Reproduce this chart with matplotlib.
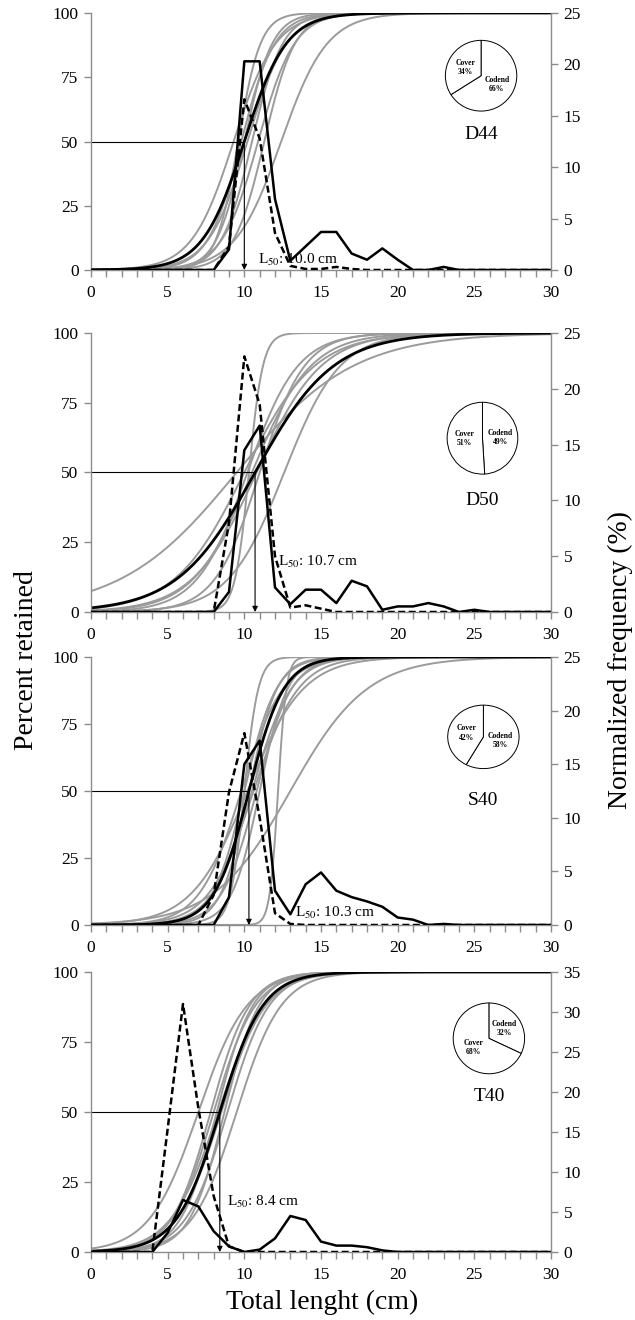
import numpy as np
import matplotlib.pyplot as plt

plt.rcParams['font.family'] = ['Liberation Serif', 'DejaVu Serif']
plt.rcParams['mathtext.fontset'] = 'stix'

lengths = np.arange(0, 31)
x_fine = np.linspace(0, 30, 601)

codes = ["D44", "D50", "S40", "T40"]
l50_mean = [10.0, 10.7, 10.3, 8.4]
sr_mean = [3.0, 5.6, 2.5, 3.1]
freq_max = [25, 25, 25, 35]

# haul-by-haul selection curves (L50, SR)
d44_l50 = [9.3, 9.6, 9.8, 10.0, 10.2, 10.5, 10.9, 11.3, 12.4]
d44_sr = [3.0, 1.6, 2.4, 2.0, 2.8, 2.2, 2.6, 2.2, 3.3]
d50_l50 = [10.3, 9.5, 12.6, 10.2, 10.5, 10.8, 11.0, 10.0]
d50_sr = [1.0, 8.3, 4.0, 3.6, 4.2, 4.6, 3.2, 5.0]
s40_l50 = [12.2, 13.0, 10.0, 10.2, 10.3, 10.5, 10.6, 10.0, 10.8, 9.8, 11.0]
s40_sr = [0.6, 5.5, 1.0, 4.0, 2.0, 2.8, 3.2, 2.3, 2.5, 3.0, 2.0]
t40_l50 = [7.0, 9.5, 7.8, 8.0, 8.2, 8.5, 8.7, 8.9, 8.3]
t40_sr = [3.5, 3.2, 2.8, 3.0, 2.6, 3.2, 2.5, 3.0, 3.4]

# normalized length frequencies (%), codend (solid) and cover (dashed)
d44_codend = [0, 0, 0, 0, 0, 0, 0, 0, 0, 2.0, 20.3, 20.3, 6.9, 0.9, 2.3, 3.7,
              3.7, 1.6, 1.0, 2.1, 1.0, 0, 0, 0.3, 0, 0, 0, 0, 0, 0, 0]
d44_cover = [0, 0, 0, 0, 0, 0, 0, 0, 0, 2.3, 16.6, 12.8, 3.6, 0.4, 0.1, 0.1,
             0.3, 0.1, 0, 0, 0, 0, 0, 0, 0, 0, 0, 0, 0, 0, 0]
d50_codend = [0, 0, 0, 0, 0, 0, 0, 0, 0, 1.8, 14.5, 16.7, 2.2, 0.7, 2.0, 2.0,
              0.8, 2.8, 2.3, 0.2, 0.5, 0.5, 0.8, 0.5, 0, 0.2, 0, 0, 0, 0, 0]
d50_cover = [0, 0, 0, 0, 0, 0, 0, 0, 0, 8.0, 22.9, 18.6, 5.0, 0.4, 0.6, 0.3,
             0, 0, 0, 0, 0, 0, 0, 0, 0, 0, 0, 0, 0, 0, 0]
s40_codend = [0, 0, 0, 0, 0, 0, 0, 0, 0, 2.6, 15.0, 17.2, 3.2, 1.0, 3.8, 4.9,
              3.2, 2.6, 2.2, 1.7, 0.7, 0.5, 0, 0.1, 0, 0, 0, 0, 0, 0, 0]
s40_cover = [0, 0, 0, 0, 0, 0, 0, 0, 2.8, 12.4, 17.9, 10.0, 1.1, 0.1, 0, 0,
             0, 0, 0, 0, 0, 0, 0, 0, 0, 0, 0, 0, 0, 0, 0]
t40_codend = [0, 0, 0, 0, 0, 2.4, 6.5, 5.7, 2.6, 0.7, 0, 0.3, 1.7, 4.5, 4.0, 1.3,
              0.8, 0.8, 0.6, 0.2, 0, 0, 0, 0, 0, 0, 0, 0, 0, 0, 0]
t40_cover = [0, 0, 0, 0, 0, 15.4, 31.0, 18.0, 7.0, 0.7, 0, 0, 0, 0, 0, 0,
             0, 0, 0, 0, 0, 0, 0, 0, 0, 0, 0, 0, 0, 0, 0]

# catch split (%), codend / cover
codend_pct = [66, 49, 58, 32]
cover_pct = [34, 51, 42, 68]

grey_l50 = [d44_l50, d50_l50, s40_l50, t40_l50]
grey_sr = [d44_sr, d50_sr, s40_sr, t40_sr]
codend_freq = [d44_codend, d50_codend, s40_codend, t40_codend]
cover_freq = [d44_cover, d50_cover, s40_cover, t40_cover]

# layout (pixels of the 635x1320 image)
W, H = 635, 1320
x_left, x_right = 91, 551
panel_top = [13, 333, 657, 972]
panel_bot = [270, 612, 925, 1252]
pie_box = [(0.848, 0.756, 0.097, 0.172, 0.527),
           (0.851, 0.623, 0.096, 0.161, 0.399),
           (0.853, 0.702, 0.097, 0.148, 0.463),
           (0.865, 0.763, 0.097, 0.158, 0.557)]
l50_text_pos = [(10.9, 4.0), (12.2, 18.0), (13.3, 4.4), (8.9, 17.8)]

axis_grey = '#8c8c8c'
curve_grey = '#9b9b9b'


def logistic(x, l50, sr):
    return 100.0 / (1.0 + np.exp(-2 * np.log(3) * (x - l50) / sr))


fig = plt.figure(figsize=(W / 100, H / 100), dpi=100)

for i in range(4):
    rect = [x_left / W, 1 - panel_bot[i] / H, (x_right - x_left) / W,
            (panel_bot[i] - panel_top[i]) / H]
    ax = fig.add_axes(rect)
    ax2 = ax.twinx()

    for l50, sr in zip(grey_l50[i], grey_sr[i]):
        ax.plot(x_fine, logistic(x_fine, l50, sr), color=curve_grey, lw=1.4)
    ax.plot(x_fine, logistic(x_fine, l50_mean[i], sr_mean[i]), color='black', lw=2.0)

    L = l50_mean[i]
    ax.plot([0, L], [50, 50], color='black', lw=0.8)
    ax.annotate('', xy=(L, 0), xytext=(L, 50),
                arrowprops=dict(arrowstyle='-|>', color='black', lw=0.8,
                                mutation_scale=8, shrinkA=0, shrinkB=0))
    tx, ty = l50_text_pos[i]
    ax.text(tx, ty, 'L$_{50}$: %.1f cm' % L, fontsize=11, va='center', ha='left')

    ax2.plot(lengths, codend_freq[i], color='black', lw=1.8)
    ax2.plot(lengths, cover_freq[i], color='black', lw=1.8, ls=(0, (2.8, 1.4)))

    ax.set_xlim(0, 30)
    ax.set_ylim(0, 100)
    ax2.set_ylim(0, freq_max[i])
    ax.set_xticks(range(0, 31, 5))
    ax.set_xticks(range(0, 31), minor=True)
    ax.set_yticks([0, 25, 50, 75, 100])
    ax2.set_yticks(range(0, freq_max[i] + 1, 5))

    for a in (ax, ax2):
        a.spines['top'].set_visible(False)
        for s in a.spines.values():
            s.set_color(axis_grey)
            s.set_linewidth(1.0)
        a.tick_params(which='both', color=axis_grey, length=5, width=1.0,
                      labelsize=12.5, direction='out', pad=4)
    ax.tick_params(axis='x', pad=6)
    ax2.spines['left'].set_visible(False)
    ax2.spines['bottom'].set_visible(False)
    ax.spines['right'].set_visible(False)

    cx, cy, hw, hh, ly = pie_box[i]
    pax = ax.inset_axes([cx - hw, cy - hh, 2 * hw, 2 * hh])
    labels = ['Codend\n%d%%' % codend_pct[i], 'Cover\n%d%%' % cover_pct[i]]
    wedges, texts = pax.pie([codend_pct[i], cover_pct[i]], startangle=90,
                            counterclock=False, colors=['white', 'white'],
                            labels=labels, labeldistance=0.5,
                            wedgeprops=dict(edgecolor='black', linewidth=0.7),
                            textprops=dict(fontsize=5.5, fontweight='bold'))
    for t in texts:
        t.set_horizontalalignment('center')
        t.set_verticalalignment('center')
        t.set_multialignment('center')
    pax.set_aspect('auto')
    ax.text(cx, ly, codes[i], transform=ax.transAxes, fontsize=14,
            ha='center', va='center')

fig.text(0.042, 0.5, 'Percent retained', rotation=90, fontsize=20,
         ha='center', va='center')
fig.text(0.977, 0.5, 'Normalized frequency (%)', rotation=90, fontsize=20,
         ha='center', va='center')
fig.text(0.508, 0.013, 'Total lenght (cm)', fontsize=20, ha='center', va='center')

fig.savefig('out.png', dpi=100)
